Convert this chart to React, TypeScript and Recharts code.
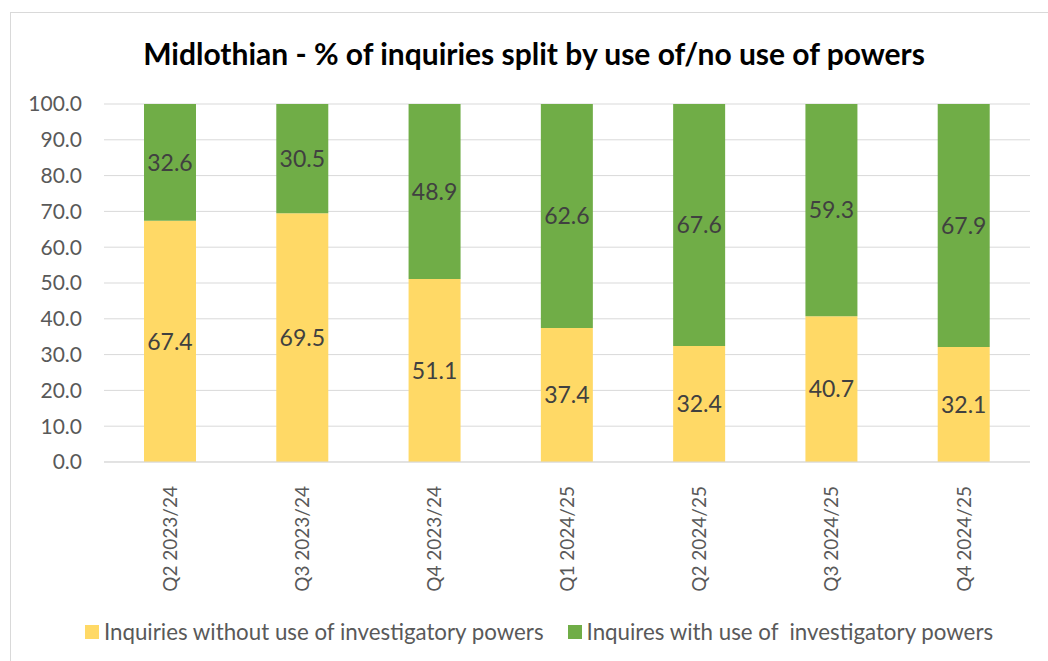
import React from 'react';
import { BarChart, Bar, XAxis, YAxis, CartesianGrid, LabelList, Legend } from 'recharts';

const quarters = ['Q2 2023/24', 'Q3 2023/24', 'Q4 2023/24', 'Q1 2024/25', 'Q2 2024/25', 'Q3 2024/25', 'Q4 2024/25'];
const withoutPowers = [67.4, 69.5, 51.1, 37.4, 32.4, 40.7, 32.1];
const withPowers = [32.6, 30.5, 48.9, 62.6, 67.6, 59.3, 67.9];
const yTicks = [0, 10, 20, 30, 40, 50, 60, 70, 80, 90, 100];

const FONT = 'Lato, "Open Sans", sans-serif';
const YELLOW = '#FFD966';
const GREEN = '#70AD47';

const data = quarters.map((q, i) => ({
    quarter: q,
    without: withoutPowers[i],
    with: withPowers[i],
}));

// rotated category labels, read bottom to top
const QuarterTick = ({ x, y, payload }: any) => (
    <g transform={`translate(${x},${y})`}>
        <text
            transform="rotate(-90)"
            x={-16}
            dy="0.35em"
            textAnchor="end"
            fill="#595959"
            fontSize={19}
            fontFamily={FONT}
        >
            {payload.value}
        </text>
    </g>
);

const legendItems = [
    { label: 'Inquiries without use of investigatory powers', color: YELLOW },
    { label: 'Inquires with use of  investigatory powers', color: GREEN },
];

const LegendContent = () => (
    <div style={{ display: 'flex', justifyContent: 'center', gap: 24, fontFamily: FONT, fontSize: 22.3, color: '#595959', lineHeight: '24px' }}>
        {legendItems.map((it) => (
            <div key={it.label} style={{ display: 'flex', alignItems: 'center', whiteSpace: 'pre' }}>
                <span style={{ display: 'inline-block', width: 14, height: 14, background: it.color, marginRight: 5 }} />
                {it.label}
            </div>
        ))}
    </div>
);

export default function App() {
    return (
        <div style={{ position: 'fixed', left: 0, top: 0, width: 1048, height: 661, overflow: 'hidden', background: '#fff' }}>
            <div style={{ position: 'absolute', left: 10, top: 12, width: 1100, height: 700, border: '1px solid #d9d9d9' }} />
            <div style={{ position: 'absolute', left: 0, top: 0 }}>
                <BarChart
                    width={1048}
                    height={661}
                    data={data}
                    margin={{ top: 104, right: 18, left: 0, bottom: 65 }}
                    barSize={52}
                >
                    <text
                        x={534}
                        y={57}
                        textAnchor="middle"
                        dominantBaseline="middle"
                        fontFamily={FONT}
                        fontWeight={700}
                        fontSize={30}
                        fill="#000"
                    >
                        Midlothian - % of inquiries split by use of/no use of powers
                    </text>
                    <CartesianGrid vertical={false} stroke="#d9d9d9" />
                    <XAxis
                        dataKey="quarter"
                        interval={0}
                        height={110}
                        tickLine={false}
                        axisLine={{ stroke: '#d9d9d9' }}
                        tick={<QuarterTick />}
                    />
                    <YAxis
                        domain={[0, 100]}
                        ticks={yTicks}
                        width={104}
                        tickLine={false}
                        axisLine={false}
                        tickSize={0}
                        tickMargin={22}
                        tickFormatter={(v: number) => v.toFixed(1)}
                        tick={{ fill: '#595959', fontSize: 21, fontFamily: FONT }}
                    />
                    <Legend
                        verticalAlign="bottom"
                        content={<LegendContent />}
                        wrapperStyle={{ position: 'absolute', top: 620, left: 15, width: 1048 }}
                    />
                    <Bar dataKey="without" stackId="a" fill={YELLOW} isAnimationActive={false}>
                        <LabelList
                            dataKey="without"
                            position="center"
                            formatter={(v: any) => Number(v).toFixed(1)}
                            fill="#404040"
                            fontSize={23}
                            fontFamily={FONT}
                        />
                    </Bar>
                    <Bar dataKey="with" stackId="a" fill={GREEN} isAnimationActive={false}>
                        <LabelList
                            dataKey="with"
                            position="center"
                            formatter={(v: any) => Number(v).toFixed(1)}
                            fill="#404040"
                            fontSize={23}
                            fontFamily={FONT}
                        />
                    </Bar>
                </BarChart>
            </div>
        </div>
    );
}
